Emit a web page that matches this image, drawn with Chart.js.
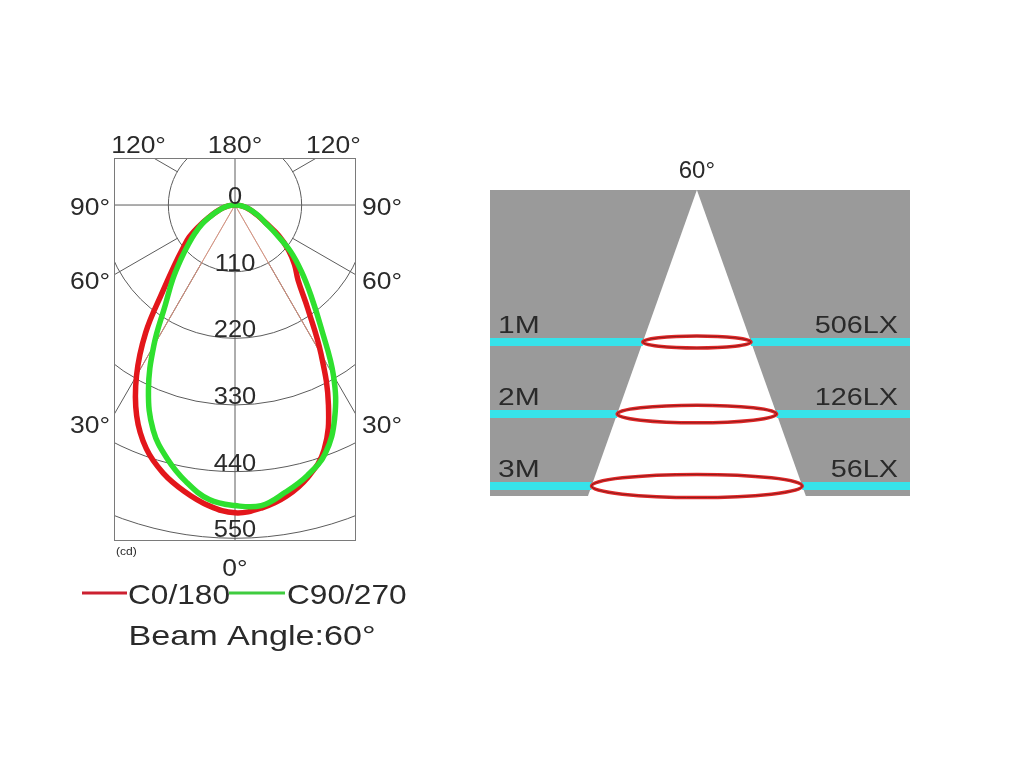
<!DOCTYPE html>
<html>
<head>
<meta charset="utf-8">
<script src="https://cdn.jsdelivr.net/npm/chart.js@4.4.1/dist/chart.umd.min.js"></script>
<style>
  body { margin: 0; background: #fff; }
  canvas { position: absolute; left: 0; top: 0; }
</style>
</head>
<body>
<canvas id="polar" width="1024" height="768"></canvas>
<canvas id="cone" width="1024" height="768"></canvas>
<script>
// intensity (cd), every 5 degrees from nadir
var angles = [0, 5, 10, 15, 20, 25, 30, 35, 40, 45, 50, 55, 60, 65, 70, 75, 80, 85, 90];
var c0   = [508, 498, 480, 458, 428, 384, 325, 257, 185, 142, 113, 92, 67, 47, 33, 23, 15, 7, 0];
var c180 = [507, 502, 488, 465, 430, 365, 284, 210, 162, 139, 115, 88, 58, 42, 31, 22, 14, 7, 0];
var c90  = [496, 488, 464, 433, 395, 338, 268, 200, 160, 126, 100, 80, 63, 45, 32, 23, 15, 7, 0];
var c270 = [496, 498, 481, 462, 436, 389, 325, 248, 195, 155, 120, 82, 57, 44, 32, 23, 15, 7, 0];
var radialTicks = [0, 110, 220, 330, 440, 550];
var gridAngles = [30, 60, 120];
var sideAngles = [30, 60, 90];
var beamAngle = 60;

// beam spread panel
var distances = [1, 2, 3];
var distLabels = ['1M', '2M', '3M'];
var luxLabels = ['506LX', '126LX', '56LX'];

var DEG = Math.PI / 180;
var FONT = '"Liberation Sans", Arial, sans-serif';
var TEXT = '#2a2a2a';

function polarPoint(theta, r) {
    return { x: r * Math.sin(theta * DEG), y: -r * Math.cos(theta * DEG) };
}

// left half runs 90 -> 0, right half 0 -> 90
function curve(left, right) {
    var pts = [];
    for (var i = angles.length - 1; i >= 0; i--) pts.push(polarPoint(-angles[i], left[i]));
    for (var j = 1; j < angles.length; j++) pts.push(polarPoint(angles[j], right[j]));
    return pts;
}

function txt(ctx, s, x, y, size, align, sx) {
    ctx.save();
    ctx.font = size + 'px ' + FONT;
    ctx.fillStyle = TEXT;
    ctx.textBaseline = 'alphabetic';
    ctx.textAlign = align;
    ctx.translate(x, y);
    ctx.scale(sx, 1);
    ctx.fillText(s, 0, 0);
    ctx.restore();
}

var bi = angles.indexOf(beamAngle / 2);

var polarGrid = {
    id: 'polarGrid',
    beforeDatasetsDraw: function (chart) {
        var ctx = chart.ctx, a = chart.chartArea;
        var xs = chart.scales.x, ys = chart.scales.y;
        var cx = xs.getPixelForValue(0), cy = ys.getPixelForValue(0);
        var k = xs.getPixelForValue(1) - cx;
        ctx.save();
        ctx.beginPath();
        ctx.rect(a.left, a.top, a.right - a.left, a.bottom - a.top);
        ctx.clip();
        ctx.strokeStyle = '#5c5c5c';
        ctx.lineWidth = 1;
        radialTicks.forEach(function (t) {
            if (!t) return;
            ctx.beginPath();
            ctx.arc(cx, cy, t * k, 0, 2 * Math.PI);
            ctx.stroke();
        });
        ctx.beginPath();
        gridAngles.forEach(function (g) {
            [-1, 1].forEach(function (s) {
                var dx = s * Math.sin(g * DEG), dy = Math.cos(g * DEG);
                ctx.moveTo(cx + dx * radialTicks[1] * k, cy + dy * radialTicks[1] * k);
                ctx.lineTo(cx + dx * 1000, cy + dy * 1000);
            });
        });
        ctx.moveTo(a.left, cy); ctx.lineTo(a.right, cy);
        ctx.moveTo(cx, a.top); ctx.lineTo(cx, a.bottom);
        ctx.stroke();
        ctx.restore();
        ctx.save();
        ctx.strokeStyle = '#7a7a7a';
        ctx.lineWidth = 1;
        ctx.strokeRect(a.left + 0.5, a.top + 0.5, a.right - a.left - 1, a.bottom - a.top - 1);
        ctx.restore();
    },
    afterDraw: function (chart) {
        var ctx = chart.ctx, a = chart.chartArea;
        var xs = chart.scales.x, ys = chart.scales.y;
        var cx = xs.getPixelForValue(0), cy = ys.getPixelForValue(0);
        var k = xs.getPixelForValue(1) - cx;
        radialTicks.forEach(function (t) {
            txt(ctx, String(t), cx, cy + t * k - 1, 24, 'center', 1.06);
        });
        // labels on top edge
        var hit = (cy - a.top) / Math.tan(30 * DEG);
        txt(ctx, '120°', cx - hit - 15, a.top - 5, 23, 'center', 1.15);
        txt(ctx, '180°', cx, a.top - 5, 23, 'center', 1.15);
        txt(ctx, '120°', cx + hit + 17, a.top - 5, 23, 'center', 1.15);
        // labels on the sides
        sideAngles.forEach(function (g) {
            var yHit = cy + (cx - a.left) / Math.tan(g * DEG);
            var y = yHit + 10 + (90 - g) / 60 * 8;
            txt(ctx, g + '°', a.left - 4, y, 23, 'right', 1.15);
            txt(ctx, g + '°', a.right + 6, y, 23, 'left', 1.15);
        });
        txt(ctx, '0°', cx, a.bottom + 35, 23, 'center', 1.15);
        txt(ctx, '(cd)', a.left + 2, a.bottom + 14, 11, 'left', 1.1);

        // legend
        ctx.save();
        ctx.lineWidth = 3;
        ctx.strokeStyle = '#cc2030';
        ctx.beginPath(); ctx.moveTo(82, 593); ctx.lineTo(127, 593); ctx.stroke();
        ctx.strokeStyle = '#3fcc3f';
        ctx.beginPath(); ctx.moveTo(229, 593); ctx.lineTo(285, 593); ctx.stroke();
        ctx.restore();
        txt(ctx, chart.data.datasets[1].label, 128, 604, 28, 'left', 1.13);
        txt(ctx, chart.data.datasets[0].label, 287, 604, 28, 'left', 1.13);
        txt(ctx, 'Beam Angle:' + beamAngle + '°', 252, 645, 28, 'center', 1.22);
    }
};

new Chart(document.getElementById('polar'), {
    type: 'scatter',
    data: {
        datasets: [{
            label: 'C90/270',
            data: curve(c90, c270),
            showLine: true,
            borderColor: '#2fe02f',
            borderWidth: 5.5,
            pointRadius: 0,
            tension: 0.4,
            order: 0
        }, {
            label: 'C0/180',
            data: curve(c0, c180),
            showLine: true,
            borderColor: '#e3161b',
            borderWidth: 5.5,
            pointRadius: 0,
            tension: 0.4,
            order: 1
        }, {
            label: 'beam C0/180',
            data: [polarPoint(-beamAngle / 2, c0[bi]), polarPoint(0, 0), polarPoint(beamAngle / 2, c180[bi])],
            showLine: true,
            borderColor: 'rgba(225,130,120,0.8)',
            borderWidth: 1,
            pointRadius: 0,
            order: 2
        }, {
            label: 'beam C90/270',
            data: [polarPoint(-beamAngle / 2, c90[bi]), polarPoint(0, 0), polarPoint(beamAngle / 2, c270[bi])],
            showLine: true,
            borderColor: 'rgba(170,175,140,0.8)',
            borderWidth: 1,
            pointRadius: 0,
            order: 3
        }]
    },
    options: {
        responsive: false,
        animation: false,
        events: [],
        layout: { padding: { left: 114, top: 158, right: 668, bottom: 227 } },
        plugins: { legend: { display: false }, tooltip: { enabled: false } },
        scales: {
            x: { type: 'linear', display: false, min: -199.7, max: 199.7 },
            y: { type: 'linear', display: false, min: -554.5, max: 77.6 }
        }
    },
    plugins: [polarGrid]
});

// ---- beam spread panel ----
var coneTop = -1.111, coneBottom = 3.139;
function halfWidth(d) {
    return Math.tan(beamAngle / 2 * DEG) * (d - coneTop);
}

var xMin = -4.66, xMax = 4.80;
var cyanSets = [];
distances.forEach(function (d) {
    var hw = halfWidth(d);
    [[xMin, -hw], [hw, xMax]].forEach(function (seg) {
        cyanSets.push({
            data: [{ x: seg[0], y: d }, { x: seg[1], y: d }],
            showLine: true,
            borderColor: '#36e3ea',
            borderWidth: 8,
            pointRadius: 0
        });
    });
});

var conePlugin = {
    id: 'conePlugin',
    beforeDatasetsDraw: function (chart) {
        var ctx = chart.ctx, a = chart.chartArea;
        var xs = chart.scales.x, ys = chart.scales.y;
        ctx.save();
        ctx.fillStyle = '#9a9a9a';
        ctx.fillRect(a.left, a.top, a.right - a.left, a.bottom - a.top);
        var hw = halfWidth(coneBottom);
        ctx.fillStyle = '#ffffff';
        ctx.beginPath();
        ctx.moveTo(xs.getPixelForValue(0), ys.getPixelForValue(coneTop));
        ctx.lineTo(xs.getPixelForValue(hw), ys.getPixelForValue(coneBottom));
        ctx.lineTo(xs.getPixelForValue(-hw), ys.getPixelForValue(coneBottom));
        ctx.closePath();
        ctx.fill();
        ctx.restore();
    },
    afterDatasetsDraw: function (chart) {
        var ctx = chart.ctx;
        var xs = chart.scales.x, ys = chart.scales.y;
        var cx = xs.getPixelForValue(0);
        ctx.save();
        distances.forEach(function (d) {
            var cy = ys.getPixelForValue(d);
            var rx = xs.getPixelForValue(halfWidth(d)) - cx;
            ctx.beginPath();
            ctx.ellipse(cx, cy, rx, rx * 0.11, 0, 0, 2 * Math.PI);
            ctx.strokeStyle = '#e02828';
            ctx.lineWidth = 3.5;
            ctx.stroke();
            ctx.strokeStyle = '#8c1c1c';
            ctx.lineWidth = 1;
            ctx.stroke();
        });
        ctx.restore();
    },
    afterDraw: function (chart) {
        var ctx = chart.ctx, a = chart.chartArea;
        var xs = chart.scales.x, ys = chart.scales.y;
        txt(ctx, beamAngle + '°', xs.getPixelForValue(0), a.top - 12, 24, 'center', 1.0);
        distances.forEach(function (d, i) {
            var y = ys.getPixelForValue(d) - 9;
            txt(ctx, distLabels[i], a.left + 8, y, 24, 'left', 1.25);
            txt(ctx, luxLabels[i], a.right - 12, y, 24, 'right', 1.2);
        });
    }
};

new Chart(document.getElementById('cone'), {
    type: 'scatter',
    data: { datasets: cyanSets },
    options: {
        responsive: false,
        animation: false,
        events: [],
        layout: { padding: { left: 490, top: 190, right: 114, bottom: 272 } },
        plugins: { legend: { display: false }, tooltip: { enabled: false } },
        scales: {
            x: { type: 'linear', display: false, min: xMin, max: xMax },
            y: { type: 'linear', display: false, min: coneTop, max: coneBottom, reverse: true }
        }
    },
    plugins: [conePlugin]
});
</script>
</body>
</html>
